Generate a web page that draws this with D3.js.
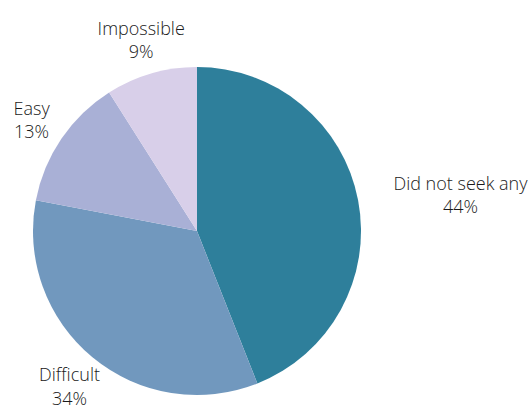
<!DOCTYPE html>
<html><head><meta charset="utf-8">
<script src="https://cdn.jsdelivr.net/npm/d3@7"></script>
<style>html,body{margin:0;padding:0;background:#fff;}</style>
</head><body>
<svg id="c" width="530" height="405"></svg>
<script>
const categories = ["Did not seek any", "Difficult", "Easy", "Impossible"];
const values = [44, 34, 13, 9];
const colors = ["#2e7f9b", "#7198be", "#a9b0d6", "#d8cfe9"];

const cx = 197, cy = 231, R = 164;
const FONT = "'Open Sans', sans-serif", FS = 18, FW = 300, lh = 23.5;
const svg = d3.select("#c");
const g = svg.append("g").attr("transform", `translate(${cx},${cy})`);
const data = categories.map((c, i) => ({ cat: c, val: values[i], col: colors[i] }));
const pie = d3.pie().value(d => d.val).sort(null);
const arc = d3.arc().innerRadius(0).outerRadius(R);
const arcs = pie(data);
g.selectAll("path").data(arcs).enter().append("path")
  .attr("d", arc).attr("fill", d => d.data.col);

const total = d3.sum(values);
function measure(s) {
  const tmp = g.append("text").attr("font-family", FONT).attr("font-size", FS).attr("font-weight", FW).text(s);
  const w = tmp.node().getComputedTextLength(); tmp.remove(); return w;
}
arcs.forEach(a => {
  const m = (a.startAngle + a.endAngle) / 2;
  const ux = Math.sin(m), uy = -Math.cos(m);
  const px = ux * (R + 36), py = uy * (R + 36);
  const pct = Math.round(a.data.val / total * 100) + "%";
  const lines = [a.data.cat, pct];
  const w = measure(a.data.cat);
  let x = px;
  if (Math.abs(ux) > 0.9) x = ux > 0 ? px + w / 2 : px - w / 2;
  const t = g.append("text").attr("text-anchor", "middle")
    .attr("font-family", FONT).attr("font-size", FS).attr("font-weight", FW)
    .attr("fill", "#1a1a1a");
  lines.forEach((l, i) => t.append("tspan").attr("x", x).attr("y", py - 4 + i * lh).text(l));
});
</script>
</body></html>
